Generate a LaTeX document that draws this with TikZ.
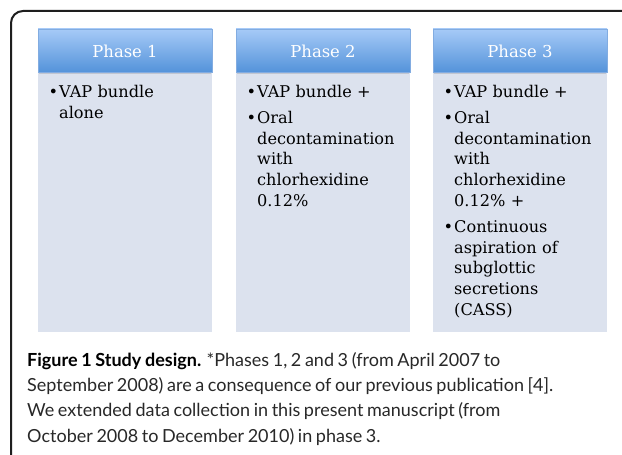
\documentclass[tikz,border=0pt]{standalone}
\usepackage{fontspec}
\setmainfont{DejaVu Serif}
\newfontfamily\capfont{Lato}
\definecolor{frame}{RGB}{30,30,30}
\definecolor{bodyfill}{RGB}{220,226,238}
\definecolor{headtop}{RGB}{166,202,247}
\definecolor{headbot}{RGB}{84,147,218}
\definecolor{headline}{RGB}{130,172,225}
\definecolor{captxt}{RGB}{40,40,40}
\newcommand\bitem[1]{\hangindent=10.5bp\hangafter=1\noindent\strut\makebox[10.5bp][l]{\textbullet}#1\par}
\tikzset{
  x=1bp, y=-1bp,
  headbox/.style={draw=headline, line width=0.6bp, top color=headtop, bottom color=headbot},
  bodybox/.style={fill=bodyfill, draw=none},
  headtext/.style={text=white, font=\fontsize{16.5}{20}\selectfont, inner sep=0pt},
  bodytext/.style={anchor=north west, inner sep=0pt, text width=150bp, align=left,
    font=\fontsize{16.2}{20.8}\selectfont},
  captext/.style={anchor=north west, inner sep=0pt, text width=545bp, text=captxt,
    scale=1.085, transform shape}
}
\begin{document}
\begin{tikzpicture}
\useasboundingbox (0,0) rectangle (622,455);
\fill[white] (0,0) rectangle (622,455);
% frame
\draw[frame, line width=2bp, rounded corners=12bp] (11,456) -- (11,11) -- (623,11);
% boxes
\foreach \i/\xl in {1/38, 2/236, 3/433} {
  \fill[bodyfill] (\xl,72) rectangle ++(174,260);
  \fill[black, opacity=0.12] (\xl+1,72) rectangle ++(172,2.5);
  \path[headbox] (\xl,29) rectangle ++(174,43);
  \node[headtext] (h\i) at (\xl+87,51) {Phase \i};
}
\node[bodytext] (b1) at (48.5,82.9) {\setlength{\parskip}{5.2bp}%
\bitem{VAP bundle\newline alone}};
\node[bodytext] (b2) at (246.5,82.9) {\setlength{\parskip}{5.2bp}%
\bitem{VAP bundle +}
\bitem{Oral\newline decontamination\newline with\newline chlorhexidine\newline 0.12\%}};
\node[bodytext] (b3) at (443.5,82.9) {\setlength{\parskip}{5.2bp}%
\bitem{VAP bundle +}
\bitem{Oral\newline decontamination\newline with\newline chlorhexidine\newline 0.12\% +}
\bitem{Continuous\newline aspiration of\newline subglottic\newline secretions\newline (CASS)}};
% caption
\node[captext] (cap) at (27,348.2) {\capfont\fontsize{16.6bp}{23.41bp}\selectfont\raggedright\noindent
\strut\textbf{\color{black}Figure 1 Study design.} *Phases 1, 2 and 3 (from April 2007 to\newline
September 2008) are a consequence of our previous publication [4].\newline
We extended data collection in this present manuscript (from\newline
October 2008 to December 2010) in phase 3.\par};
\end{tikzpicture}
\end{document}
